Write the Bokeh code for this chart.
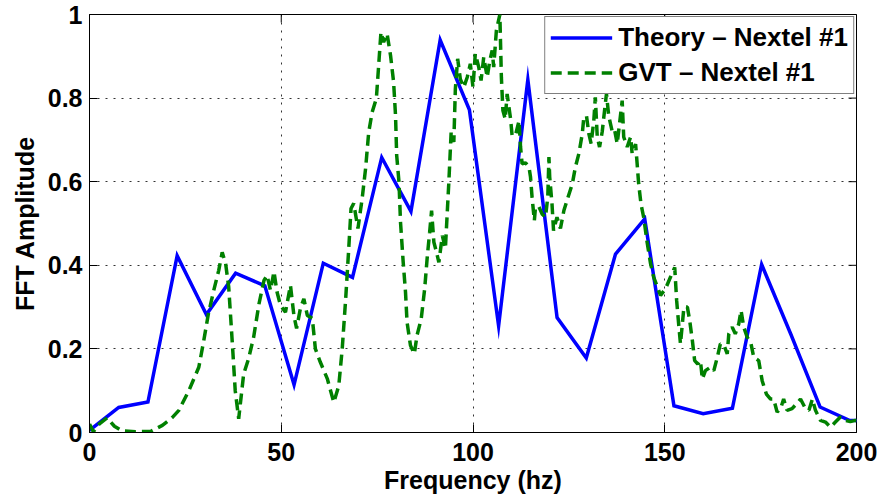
import math
from bokeh.plotting import figure
from bokeh.models import Range1d, FixedTicker, Legend, LegendItem
from bokeh.embed import file_html
from bokeh.resources import INLINE

# ---- data -------------------------------------------------------------
theory_freq = [0.00, 7.62, 15.24, 22.86, 30.48, 38.10, 45.72, 53.34, 60.96,
               68.58, 76.20, 83.82, 91.44, 99.06, 106.68, 114.30, 121.92,
               129.54, 137.16, 144.78, 152.40, 160.02, 167.64, 175.26,
               182.88, 190.50, 198.12, 205.74]
theory_amp = [0.005, 0.060, 0.073, 0.423, 0.282, 0.381, 0.351, 0.114, 0.405,
              0.371, 0.658, 0.529, 0.939, 0.772, 0.255, 0.844, 0.275,
              0.178, 0.427, 0.511, 0.064, 0.045, 0.058, 0.402,
              0.235, 0.061, 0.029, 0.027]

gvt_freq = [0.0, 1.0, 2.5, 4.6, 6.5, 8.5, 12.0, 16.0, 19.0, 21.5, 23.3, 25.9,
            28.5, 29.8, 31.0, 32.4, 33.7, 34.6, 35.5, 36.3, 37.2, 38.0, 38.9,
            40.2, 41.5, 42.8, 44.2, 45.5, 46.3, 47.2, 48.1, 48.9, 49.8, 51.1,
            52.4, 53.3, 54.0, 55.0, 55.9, 56.8, 58.1, 58.9, 60.2, 62.0, 63.7,
            65.0, 65.9, 66.8, 67.6, 68.2, 68.9, 70.0, 71.1, 72.0, 72.8, 73.7,
            74.8, 75.4, 76.0, 76.7, 77.6, 78.5, 79.3, 79.8, 80.1, 80.7, 81.1,
            81.8, 82.4, 82.8, 83.7, 84.7, 85.4, 86.5, 87.4, 88.1, 88.7, 89.2,
            89.8, 90.5, 91.1, 92.0, 92.8, 93.7, 94.3, 95.0, 95.4, 96.0, 96.7,
            97.6, 98.5, 99.3, 100.0, 100.6, 101.5, 102.1, 102.8, 103.7, 104.4,
            105.0, 105.4, 106.1, 107.0, 107.4, 107.8, 108.4, 108.9, 109.8,
            110.2, 111.1, 112.0, 112.4, 112.8, 113.7, 114.6, 115.0, 115.4,
            116.0, 116.3, 117.2, 118.0, 118.9, 119.5, 119.8, 120.0, 120.6,
            121.0, 121.9, 122.8, 123.7, 124.5, 125.9, 126.7, 127.6, 128.5,
            128.9, 129.6, 130.2, 130.8, 131.5, 131.9, 132.4, 133.0, 133.7,
            134.3, 134.8, 135.4, 136.3, 136.9, 137.6, 138.3, 138.9, 139.3,
            140.2, 141.1, 141.5, 142.4, 142.8, 143.2, 143.8, 144.5, 145.4,
            146.3, 147.1, 148.9, 150.2, 151.5, 152.6, 153.1, 153.7, 154.1,
            155.0, 155.9, 156.5, 157.2, 157.8, 158.6, 159.3, 159.8, 160.6,
            161.9, 162.8, 163.7, 164.5, 165.4, 166.3, 166.7, 167.6, 168.4,
            169.3, 169.9, 170.6, 171.5, 172.5, 173.2, 174.5, 175.4, 176.5,
            177.6, 178.4, 179.3, 180.2, 181.0, 181.9, 183.2, 184.5, 185.4,
            186.7, 187.6, 188.5, 189.3, 190.6, 191.9, 193.2, 194.5, 195.8,
            197.1, 198.4, 199.7, 200.0]
gvt_amp = [0.020, 0.002, 0.020, 0.035, 0.015, 0.004, 0.002, 0.003, 0.017, 0.035, 0.053, 0.100,
           0.156, 0.220, 0.284, 0.340, 0.388, 0.431, 0.404, 0.348, 0.220, 0.100, 0.033,
           0.140, 0.177, 0.228, 0.308, 0.364, 0.376, 0.340, 0.385, 0.336, 0.304, 0.288,
           0.352, 0.280, 0.249, 0.297, 0.320, 0.280, 0.273, 0.200, 0.168, 0.129, 0.072,
           0.112, 0.200, 0.320, 0.440, 0.536, 0.548, 0.488, 0.560, 0.632, 0.718, 0.766,
           0.799, 0.878, 0.958, 0.934, 0.954, 0.902, 0.838, 0.758, 0.663, 0.599, 0.503,
           0.407, 0.336, 0.264, 0.208, 0.188, 0.232, 0.272, 0.344, 0.423, 0.479, 0.531,
           0.455, 0.431, 0.407, 0.471, 0.440, 0.599, 0.718, 0.695, 0.822, 0.894, 0.845,
           0.826, 0.850, 0.882, 0.826, 0.906, 0.874, 0.842, 0.898, 0.850, 0.890,
           0.914, 0.874, 0.962, 1.000, 0.850, 0.770, 0.750, 0.810, 0.750,
           0.710, 0.712, 0.746, 0.683, 0.643, 0.645, 0.635, 0.611, 0.563,
           0.507, 0.539, 0.540, 0.523, 0.515, 0.563, 0.659, 0.611, 0.547,
           0.483, 0.515, 0.488, 0.531, 0.555, 0.595, 0.635, 0.667, 0.715,
           0.754, 0.757, 0.715, 0.691, 0.746, 0.802, 0.707, 0.683, 0.720,
           0.770, 0.810, 0.757, 0.720, 0.725, 0.691, 0.746, 0.794, 0.707,
           0.683, 0.707, 0.667, 0.690, 0.643, 0.595, 0.547, 0.515, 0.455,
           0.404, 0.372, 0.328, 0.344, 0.372, 0.395, 0.316, 0.252, 0.212,
           0.300, 0.300, 0.268, 0.220, 0.172, 0.164, 0.172, 0.128, 0.148,
           0.156, 0.148, 0.180, 0.212, 0.210, 0.188, 0.236, 0.252, 0.236,
           0.260, 0.292, 0.252, 0.228, 0.212, 0.180, 0.172, 0.124, 0.092,
           0.080, 0.080, 0.049, 0.057, 0.080, 0.053, 0.057, 0.070, 0.080,
           0.057, 0.053, 0.080, 0.053, 0.029, 0.025, 0.013, 0.025, 0.037,
           0.029, 0.026, 0.029, 0.028]

x_ticks = [0, 50, 100, 150, 200]
x_tick_labels = ["0", "50", "100", "150", "200"]
y_ticks = [0, 0.2, 0.4, 0.6, 0.8, 1]
y_tick_labels = ["0", "0.2", "0.4", "0.6", "0.8", "1"]

series_names = ["Theory \u2013 Nextel #1", "GVT \u2013 Nextel #1"]
x_label = "Frequency (hz)"
y_label = "FFT Amplitude"

X_MIN, X_MAX = 0, 200
Y_MIN, Y_MAX = 0, 1

# ---- figure -----------------------------------------------------------
FONT = "Liberation Sans"
FS = "25px"

p = figure(width=880, height=502, output_backend="svg", toolbar_location=None,
           x_range=Range1d(X_MIN, X_MAX), y_range=Range1d(Y_MIN, Y_MAX),
           min_border_left=89, min_border_right=24,
           min_border_top=14, min_border_bottom=70)
p.background_fill_color = "white"
p.border_fill_color = "white"
p.outline_line_color = "black"
p.outline_line_width = 1

l_theory = p.line(theory_freq, theory_amp, line_color="#0000FF",
                  line_width=3.5, line_join="miter")
l_gvt = p.line(gvt_freq, gvt_amp, line_color="#008000",
               line_width=3.5, line_dash="11 6")

# box ticks on the top and right edges (half of each dash is clipped by the frame)
p.scatter([X_MAX] * len(y_ticks), y_ticks, marker="dash", size=16,
          line_color="black", line_width=1)
p.scatter(x_ticks, [Y_MAX] * len(x_ticks), marker="dash", size=16,
          angle=math.pi / 2, line_color="black", line_width=1)


def style_axis(ax, ticks, labels):
    ax.ticker = FixedTicker(ticks=ticks)
    ax.major_label_overrides = dict(zip(ticks, labels))
    ax.major_tick_in = 8
    ax.major_tick_out = 0
    ax.minor_tick_in = 0
    ax.minor_tick_out = 0
    ax.axis_line_color = "black"
    ax.major_tick_line_color = "black"
    ax.major_label_text_font = FONT
    ax.major_label_text_font_style = "bold"
    ax.major_label_text_color = "black"
    ax.major_label_text_font_size = FS
    ax.axis_label_text_font = FONT
    ax.axis_label_text_font_style = "bold"
    ax.axis_label_text_font_size = FS
    ax.axis_label_text_color = "black"


xa = p.xaxis[0]
style_axis(xa, x_ticks, x_tick_labels)
xa.major_label_standoff = 10
xa.axis_label = x_label
xa.axis_label_standoff = 2

ya = p.yaxis[0]
style_axis(ya, y_ticks, y_tick_labels)
ya.major_label_standoff = 7
ya.axis_label = y_label
ya.axis_label_standoff = 6

for g in (p.xgrid[0], p.ygrid[0]):
    g.grid_line_color = "black"
    g.grid_line_alpha = 0.8
    g.grid_line_width = 1
    g.grid_line_dash = "2 6"

legend = Legend(items=[LegendItem(label=series_names[0], renderers=[l_theory]),
                       LegendItem(label=series_names[1], renderers=[l_gvt])],
                location="top_right")
legend.label_text_font = FONT
legend.label_text_font_style = "bold"
legend.label_text_font_size = "26px"
legend.label_text_color = "black"
legend.border_line_color = "black"
legend.border_line_width = 1
legend.background_fill_color = "white"
legend.background_fill_alpha = 1
legend.padding = 5
legend.spacing = 4
legend.glyph_width = 62
legend.glyph_height = 29
legend.label_height = 29
legend.label_standoff = 6
legend.margin = 2
p.add_layout(legend)

open("out.html", "w").write(file_html(p, INLINE))
